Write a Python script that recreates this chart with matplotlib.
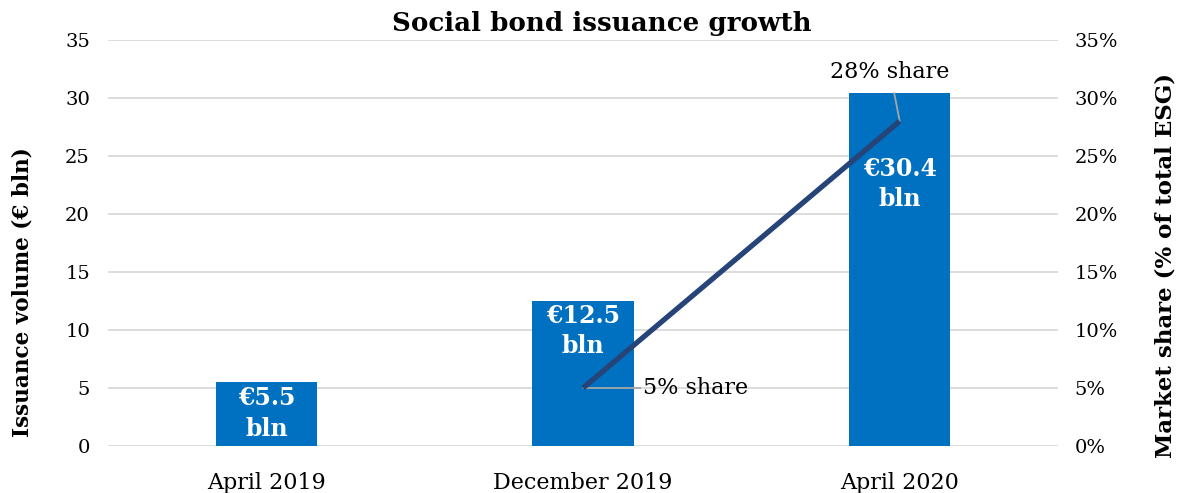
import matplotlib.pyplot as plt
from matplotlib.ticker import PercentFormatter

periods = ["April 2019", "December 2019", "April 2020"]
volume_bln = [5.5, 12.5, 30.4]
volume_labels = ["€5.5\nbln", "€12.5\nbln", "€30.4\nbln"]
share_periods = [1, 2]
share_pct = [5, 28]

BAR = "#0070C0"
LINE = "#264478"
GRID = "#D9D9D9"

plt.rcParams["font.family"] = ["DejaVu Serif"]

fig = plt.figure(figsize=(11.84, 4.93), dpi=100)
ax = fig.add_axes([0.0912, 0.0953, 0.8024, 0.8236])
ax2 = ax.twinx()

x = range(len(periods))
ax.bar(x, volume_bln, width=0.32, color=BAR, zorder=2)
ax.set_xlim(-0.5, 2.5)
ax.set_ylim(0, 35)
ax.set_yticks(range(0, 36, 5))
ax.grid(axis="y", color=GRID, linewidth=1.3, zorder=0)
ax.set_axisbelow(True)
ax.set_xticks(list(x))
ax.set_xticklabels(periods)
ax.tick_params(axis="y", length=0, labelsize=14, pad=13)
ax.tick_params(axis="x", length=0, labelsize=16, pad=19)

# label depth below each bar top (the last one sits lower, clear of the line)
label_drop = [2.7, 2.6, 7.8]
for xi, v, lab, d in zip(x, volume_bln, volume_labels, label_drop):
    ax.text(xi, v - d, lab, ha="center", va="center", color="white",
            fontsize=17, fontweight="bold", linespacing=1.35, zorder=3)

ax2.plot(share_periods, share_pct, color=LINE, linewidth=3.8, solid_capstyle="butt", zorder=4)
ax2.set_ylim(0, 35)
ax2.set_yticks(range(0, 36, 5))
ax2.yaxis.set_major_formatter(PercentFormatter(decimals=0))
ax2.tick_params(axis="y", length=0, labelsize=14, pad=12)

# callouts for the share points
ax2.annotate("5% share", xy=(share_periods[0], share_pct[0]), xytext=(1.19, 5),
             fontsize=16, va="center", ha="left",
             arrowprops=dict(arrowstyle="-", color="#A6A6A6", lw=1.3, shrinkA=0, shrinkB=0))
ax2.annotate("28% share", xy=(share_periods[1], share_pct[1]), xytext=(1.97, 32.2),
             fontsize=16, va="center", ha="center",
             arrowprops=dict(arrowstyle="-", color="#A6A6A6", lw=1.3, shrinkA=5, shrinkB=0))

for a in (ax, ax2):
    for s in a.spines.values():
        s.set_visible(False)

fig.text(0.508, 0.953, "Social bond issuance growth", ha="center", va="center",
         fontsize=18.8, fontweight="bold")
fig.text(0.0194, 0.408, "Issuance volume (€ bln)", ha="center", va="center",
         rotation=90, fontsize=15.5, fontweight="bold")
fig.text(0.984, 0.462, "Market share (% of total ESG)", ha="center", va="center",
         rotation=90, fontsize=16.5, fontweight="bold")

fig.savefig("out.png", dpi=100)
